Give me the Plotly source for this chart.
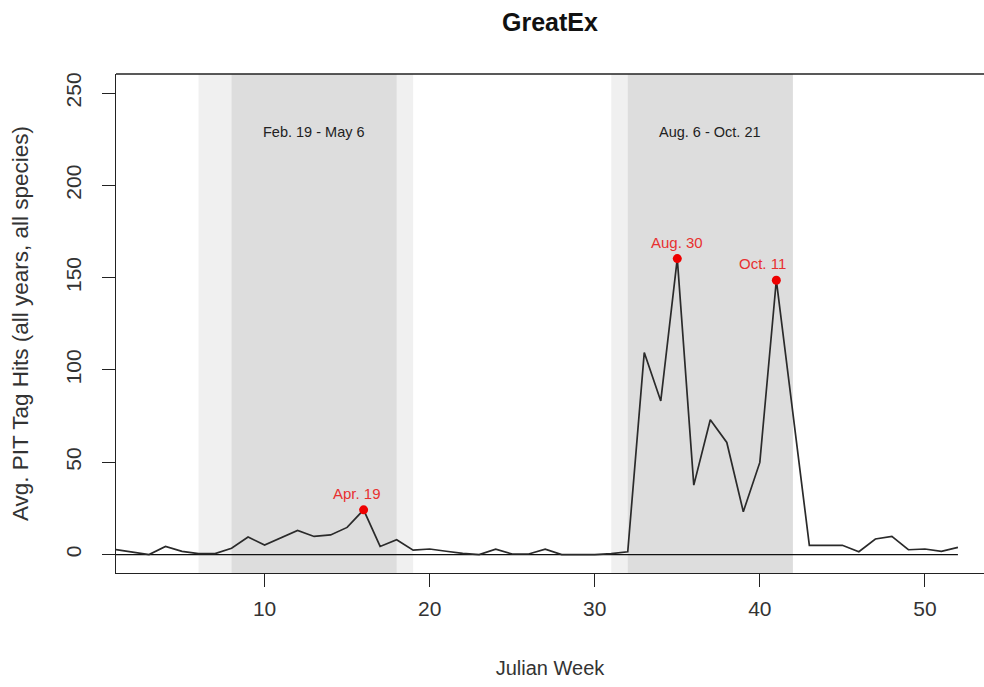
import plotly.graph_objects as go

# ---- data ----
weeks = list(range(1, 53))
hits = [2.7, 1.5, 0.0, 4.4, 1.7, 0.5, 0.5, 3.4, 9.5, 5.1,
        9.3, 13.1, 9.8, 10.6, 14.7, 24.2, 4.4, 8.0, 2.4, 3.0,
        1.8, 0.6, 0.0, 2.9, 0.3, 0.3, 2.9, 0.0, 0.0, 0.0,
        0.5, 1.5, 109.4, 83.2, 160.3, 37.6, 73.0, 60.7, 23.2, 49.9,
        148.6, 77.0, 5.0, 5.0, 5.0, 1.5, 8.4, 9.8, 2.6, 3.0,
        1.7, 3.9]
peak_weeks = [16, 35, 41]
peak_labels = ["Apr. 19", "Aug. 30", "Oct. 11"]
outer_windows = [(6, 19), (31, 42)]
inner_windows = [(8, 18), (32, 42)]
window_labels = ["Feb. 19 - May 6", "Aug. 6 - Oct. 21"]
y_ticks = [0, 50, 100, 150, 200, 250]
x_ticks = [10, 20, 30, 40, 50]

FONT = "Liberation Sans, Arial, sans-serif"

fig = go.Figure()

shapes = []
for (a, b) in outer_windows:
    shapes.append(dict(type="rect", xref="x", yref="paper", x0=a, x1=b, y0=0, y1=1,
                       fillcolor="#f0f0f0", line=dict(width=0), layer="below"))
for (a, b) in inner_windows:
    shapes.append(dict(type="rect", xref="x", yref="paper", x0=a, x1=b, y0=0, y1=1,
                       fillcolor="#dddddd", line=dict(width=0), layer="below"))
shapes.append(dict(type="line", xref="paper", yref="paper", x0=0, x1=1, y0=1, y1=1,
                   line=dict(color="#222222", width=1.3)))

fig.add_trace(go.Scatter(x=[weeks[0], weeks[-1]], y=[0, 0], mode="lines",
                         line=dict(color="#111111", width=1.2), hoverinfo="skip",
                         showlegend=False))
fig.add_trace(go.Scatter(x=weeks, y=hits, mode="lines",
                         line=dict(color="#2a2a2a", width=1.7), showlegend=False))
peak_vals = [hits[w - 1] for w in peak_weeks]
fig.add_trace(go.Scatter(x=peak_weeks, y=peak_vals, mode="markers",
                         marker=dict(color="#ee0000", size=9), showlegend=False))

peak_shift = {16: -7, 35: 0, 41: -14}
annotations = []
for w, v, lab in zip(peak_weeks, peak_vals, peak_labels):
    annotations.append(dict(x=w, y=v, text=lab, showarrow=False, xanchor="center",
                            yanchor="bottom", xshift=peak_shift[w], yshift=6,
                            font=dict(family=FONT, size=15, color="#e83030")))
for (a, b), lab in zip(inner_windows, window_labels):
    annotations.append(dict(x=(a + b) / 2, y=229, text=lab, showarrow=False,
                            xanchor="center", yanchor="middle",
                            font=dict(family=FONT, size=14.5, color="#222222")))
annotations.append(dict(x=0.5, y=1, xref="paper", yref="paper", yshift=36,
                        text="<b>GreatEx</b>", showarrow=False, xanchor="center",
                        yanchor="bottom", font=dict(family=FONT, size=25, color="#111111")))

fig.update_layout(
    width=984, height=687,
    margin=dict(l=116, r=0, t=74, b=114),
    paper_bgcolor="white", plot_bgcolor="white",
    shapes=shapes, annotations=annotations,
    font=dict(family=FONT, color="#222222"),
    xaxis=dict(range=[1, 53.58], tickvals=x_ticks, ticks="outside", ticklen=13,
               tickcolor="#222222", showline=True, linecolor="#222222", linewidth=1.3,
               showgrid=False, zeroline=False, ticklabelstandoff=4, automargin=False,
               tickfont=dict(family=FONT, size=21, color="#333333"),
               title=dict(text="Julian Week", font=dict(family=FONT, size=20, color="#333333"),
                          standoff=41)),
    yaxis=dict(range=[-10, 260.3], tickvals=y_ticks, ticks="outside", ticklen=13,
               tickcolor="#222222", showline=True, linecolor="#222222", linewidth=1.3,
               showgrid=False, zeroline=False, tickangle=-90, ticklabelstandoff=12,
               automargin=False,
               tickfont=dict(family=FONT, size=21, color="#333333"),
               title=dict(text="Avg. PIT Tag Hits (all years, all species)",
                          font=dict(family=FONT, size=22.5, color="#333333"), standoff=27)),
)

fig.write_html("out.html", config={"displayModeBar": False},
               post_script="document.body.style.margin='0';document.body.style.overflow='hidden';")
